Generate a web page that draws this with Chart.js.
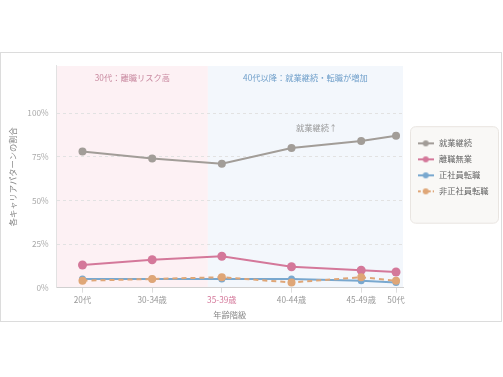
<!DOCTYPE html>
<html>
<head>
<meta charset="utf-8">
<script src="https://cdn.jsdelivr.net/npm/chart.js@4"></script>
<style>
  html, body { margin: 0; padding: 0; background: #fff; }
  #wrap {
    position: absolute; left: 0; top: 52px; width: 502px; height: 270px;
    border: 1px solid #dcdcdc; box-sizing: border-box; background: #fff;
  }
  #wrap canvas { position: absolute; left: 0; top: 0; }
</style>
</head>
<body>
<div id="wrap"><canvas id="careerChart" width="500" height="268" style="width:500px;height:268px"></canvas></div>
<script>
// 年齢階級とその横位置(年齢の目安)
const ageGroups = ["20代", "30-34歳", "35-39歳", "40-44歳", "45-49歳", "50代"];
const agePos = [27, 32, 37, 42, 47, 49.5];

// 各キャリアパターンの割合(%)
const keepWorking = [78, 74, 71, 80, 84, 87];
const leaveNoJob = [13, 16, 18, 12, 10, 9];
const regularChange = [5, 5, 5, 5, 4, 3];
const nonRegularChange = [4, 5, 6, 3, 6, 4];

const yTicks = [0, 25, 50, 75, 100];

const FONT = "'Noto Sans CJK JP', 'Noto Sans', sans-serif";
const FS = 8.25;
Chart.defaults.font.family = FONT;
Chart.defaults.font.size = FS;

const COLORS = {
  keep: "#a29d98",
  leave: "#d4789a",
  regular: "#79a8cf",
  nonRegular: "#dfa677",
};

// 凡例用のアイコン(線+点)
function legendIcon(color, dashed) {
  const c = document.createElement("canvas");
  c.width = 16;
  c.height = 8;
  const g = c.getContext("2d");
  g.strokeStyle = color;
  g.lineWidth = 2;
  if (dashed) g.setLineDash([3, 2]);
  g.beginPath();
  g.moveTo(0, 4);
  g.lineTo(16, 4);
  g.stroke();
  g.fillStyle = color;
  g.beginPath();
  g.arc(8, 4, 3, 0, Math.PI * 2);
  g.fill();
  return c;
}

function toPoints(values) {
  return values.map((v, i) => ({ x: agePos[i], y: v }));
}

const datasets = [
  { label: "就業継続", data: toPoints(keepWorking), color: COLORS.keep, radius: 4 },
  { label: "離職無業", data: toPoints(leaveNoJob), color: COLORS.leave, radius: 4.5 },
  { label: "正社員転職", data: toPoints(regularChange), color: COLORS.regular, radius: 3.5 },
  { label: "非正社員転職", data: toPoints(nonRegularChange), color: COLORS.nonRegular, radius: 4, dash: [5, 4] },
].map((d, i) => ({
  label: d.label,
  data: d.data,
  borderColor: d.color,
  backgroundColor: d.color,
  borderWidth: 2,
  borderDash: d.dash || [],
  pointRadius: d.radius,
  pointBorderWidth: 0,
  pointHoverRadius: d.radius,
  tension: 0,
  order: 3 - i,
  icon: legendIcon(d.color, !!d.dash),
}));

// 背景の帯・注記・凡例の枠
const bgPlugin = {
  id: "bgPlugin",
  afterLayout(chart) {
    // 凡例の位置を調整
    const lg = chart.legend;
    const w = lg.width, h = lg.height;
    lg.left = 408;
    lg.right = lg.left + w;
    lg.top = 78.45;
    lg.bottom = lg.top + h;
  },
  beforeDraw(chart) {
    const { ctx, chartArea: a, scales: { x } } = chart;
    const split = x.getPixelForValue(36);
    ctx.save();
    ctx.fillStyle = "#fdf1f4";
    ctx.fillRect(a.left, a.top, split - a.left, a.bottom - a.top);
    ctx.fillStyle = "#f3f7fc";
    ctx.fillRect(split, a.top, a.right - split, a.bottom - a.top);

    // 凡例の枠
    const lg = chart.legend;
    ctx.beginPath();
    ctx.roundRect(lg.left + 1.5, lg.top - 4.75, 88, 96.5, 5);
    ctx.fillStyle = "#f9f8f6";
    ctx.fill();
    ctx.strokeStyle = "#e9e5e1";
    ctx.lineWidth = 1;
    ctx.stroke();
    ctx.restore();
  },
  beforeDatasetsDraw(chart) {
    const { ctx, chartArea: a, scales: { x } } = chart;
    const split = x.getPixelForValue(36);
    ctx.save();
    ctx.font = FS + "px " + FONT;
    ctx.textAlign = "center";
    ctx.textBaseline = "middle";
    ctx.fillStyle = "#c98aa0";
    ctx.fillText("30代：離職リスク高", (a.left + split) / 2, a.top + 11.5);
    ctx.fillStyle = "#6f9fca";
    ctx.fillText("40代以降：就業継続・転職が増加", (split + a.right) / 2, a.top + 11.5);
    ctx.restore();
  },
  afterDatasetsDraw(chart) {
    const { ctx, scales: { x, y } } = chart;
    ctx.save();
    ctx.font = FS + "px " + FONT;
    ctx.textAlign = "center";
    ctx.textBaseline = "middle";
    ctx.fillStyle = "#999";
    ctx.fillText("就業継続↑", x.getPixelForValue(43.8), y.getPixelForValue(91.5));
    ctx.restore();
  },
};

new Chart(document.getElementById("careerChart"), {
  type: "line",
  data: { datasets: datasets },
  plugins: [bgPlugin],
  options: {
    responsive: false,
    animation: false,
    layout: { padding: { left: 0, right: 10, top: 12.7, bottom: 0 } },
    plugins: {
      tooltip: { enabled: false },
      legend: {
        position: "right",
        align: "start",
        maxWidth: 88,
        labels: {
          usePointStyle: true,
          pointStyleWidth: 18,
          padding: 7.75,
          color: "#666",
          font: { size: FS },
          generateLabels: (chart) =>
            chart.data.datasets.map((ds, i) => ({
              text: ds.label,
              pointStyle: ds.icon,
              fillStyle: ds.borderColor,
              strokeStyle: ds.borderColor,
              lineWidth: 0,
              hidden: false,
              datasetIndex: i,
              fontColor: "#666",
            })),
        },
      },
    },
    scales: {
      x: {
        type: "linear",
        min: 25.15,
        max: 50,
        afterBuildTicks: (s) => {
          s.ticks = agePos.map((v) => ({ value: v }));
        },
        afterFit: (s) => {
          s.height = 33.3;
        },
        ticks: {
          autoSkip: false,
          maxRotation: 0,
          padding: 2.5,
          color: (c) => (c.index === 2 ? "#d4789a" : "#999"),
          callback: (v, i) => ageGroups[i],
        },
        grid: { drawOnChartArea: false, drawTicks: true, tickLength: 5, tickColor: "#dcdcdc" },
        border: { display: true, color: "#d0d0d0" },
        title: {
          display: true,
          text: "年齢階級",
          color: "#888",
          font: { size: FS },
          padding: { top: 0, bottom: 1.5 },
        },
      },
      y: {
        min: 0,
        max: 127,
        afterBuildTicks: (s) => {
          s.ticks = yTicks.map((v) => ({ value: v }));
        },
        afterFit: (s) => {
          s.width = 55.7;
        },
        ticks: {
          padding: 8,
          color: "#aaa",
          callback: (v) => v + "%",
        },
        grid: {
          drawTicks: false,
          color: (c) => (c.tick && c.tick.value === 0 ? "rgba(0,0,0,0)" : "#e2e2e2"),
        },
        border: { display: true, color: "#e2e2e2", dash: [3, 3] },
        title: {
          display: true,
          text: "各キャリアパターンの割合",
          color: "#888",
          font: { size: FS },
          padding: { top: 6.5, bottom: 0 },
        },
      },
    },
  },
});
</script>
</body>
</html>
